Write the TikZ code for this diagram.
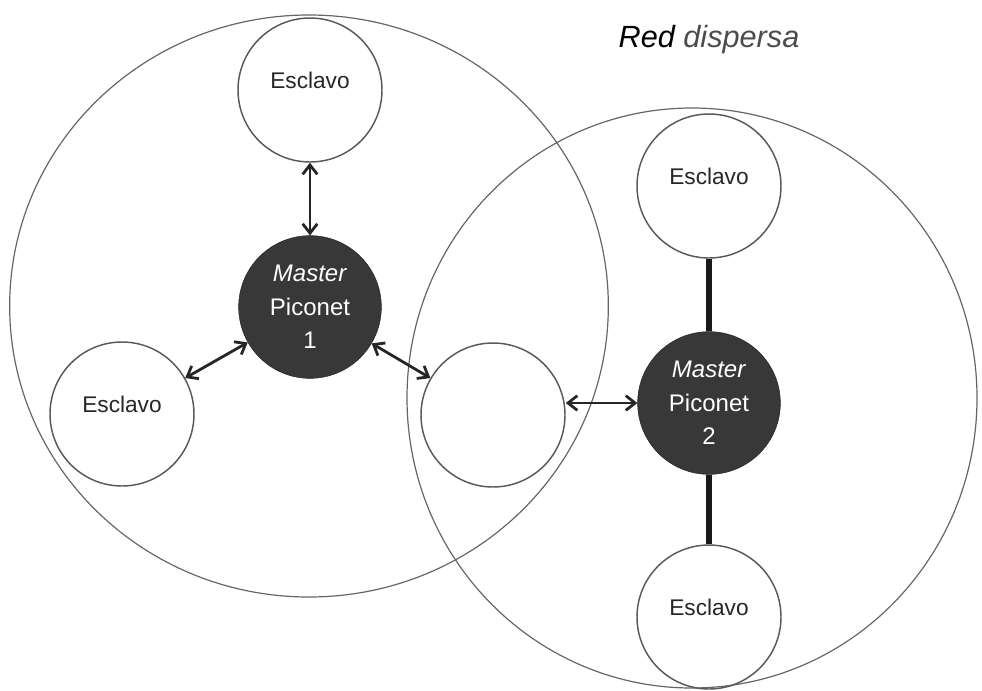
\documentclass[tikz,border=0pt]{standalone}
\usepackage{fontspec}
\setmainfont{Liberation Sans}
\usetikzlibrary{arrows.meta}

\tikzset{
  piconet/.style = {draw=black!60, line width=0.9pt},
  esclavo/.style = {circle, draw=black!65, line width=1.1pt, minimum size=108pt, inner sep=0pt},
  master/.style = {circle, draw=black!85, fill=black!78, minimum size=107pt, inner sep=0pt,
                   text=white, align=center, font=\fontsize{18}{25}\selectfont},
  etiqueta/.style = {font=\fontsize{17}{20}\selectfont, text=black!85, yshift=7pt},
  enlace/.style = {{Straight Barb[length=7pt,width=11pt]}-{Straight Barb[length=7pt,width=11pt]},
                   line width=2.1pt, draw=black!85},
  union/.style = {line width=4.2pt, draw=black!90}
}

\begin{document}
\begin{tikzpicture}[x=0.75pt, y=-0.75pt]
  \useasboundingbox (0,0) rectangle (982,690);
  %piconets
  \draw[piconet] (309,306) ellipse [x radius=224.5pt, y radius=218.25pt];
  \draw[piconet] (692,398) ellipse [x radius=213.75pt, y radius=217.5pt];
  %nodes
  \node[font=\fontsize{23}{27}\selectfont\itshape] (titulo) at (709,40) {Red \textcolor{black!70}{dispersa}};
  \node[master] (m1) at (310,307) {\textit{Master}\\Piconet\\1};
  \node[master] (m2) at (709,403) {\textit{Master}\\Piconet\\2};
  \node[esclavo, label={[etiqueta]center:Esclavo}] (e1) at (310,90) {};
  \node[esclavo, label={[etiqueta]center:Esclavo}] (e2) at (122,414) {};
  \node[esclavo] (p) at (493,415) {};
  \node[esclavo, label={[etiqueta]center:Esclavo}] (e3) at (709,186) {};
  \node[esclavo, label={[etiqueta]center:Esclavo}] (e4) at (709,617) {};
  %edges
  \draw[enlace] (e1) -- (m1);
  \draw[enlace] (e2) -- (m1);
  \draw[enlace] (m1) -- (p);
  \draw[enlace] (m2 -| p.east) -- (m2);
  \draw[union] (e3) -- (m2);
  \draw[union] (m2) -- (e4);
\end{tikzpicture}
\end{document}
